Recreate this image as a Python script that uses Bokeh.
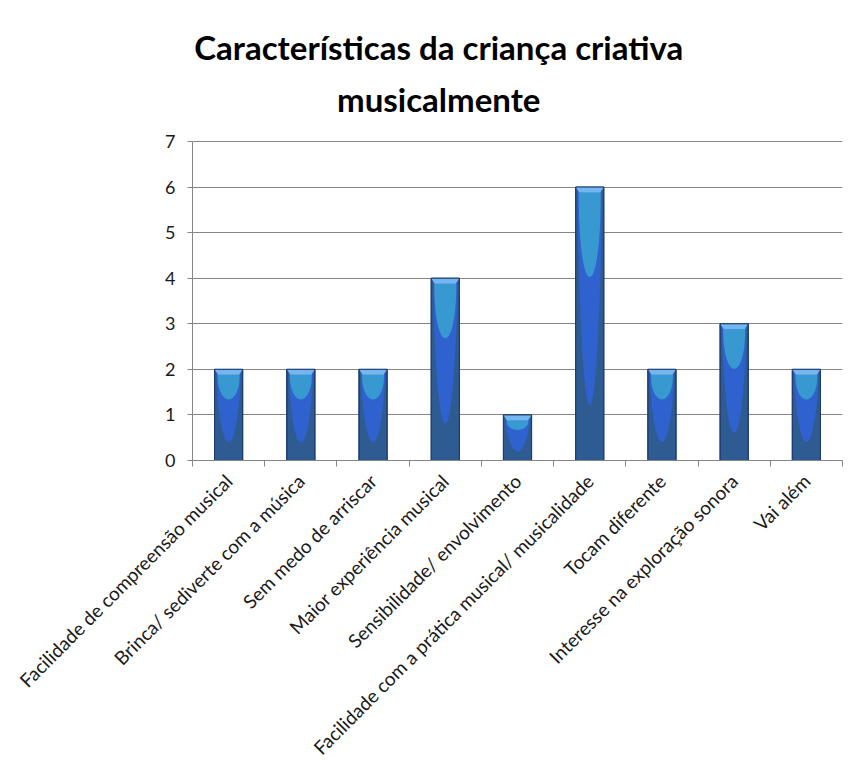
import math
import numpy as np
from bokeh.plotting import figure
from bokeh.models import FixedTicker, Range1d
from bokeh.core.properties import value
from bokeh.embed import file_html
from bokeh.resources import INLINE

# Chart data
categories = [
    "Facilidade de compreensão musical",
    "Brinca/ sediverte com a música",
    "Sem medo de arriscar",
    "Maior experiência musical",
    "Sensibilidade/ envolvimento",
    "Facilidade com a prática musical/ musicalidade",
    "Tocam diferente",
    "Interesse na exploração sonora",
    "Vai além",
]
values = [2, 2, 2, 4, 1, 6, 2, 3, 2]
y_ticks = [0, 1, 2, 3, 4, 5, 6, 7]
title_lines = ["Características da criança criativa", "musicalmente"]

n = len(categories)
centers = [i + 0.5 for i in range(n)]
bounds = [float(i) for i in range(n + 1)]

GRID = "#868686"
FONT = "Lato"

# the frame reaches up to hold the title; axis and grid stop at 7
p = figure(
    width=850, height=769,
    x_range=Range1d(0, n), y_range=Range1d(0, 9.545),
    output_backend="svg", toolbar_location=None,
    min_border_left=192, min_border_right=8,
    min_border_top=25, min_border_bottom=309,
    border_fill_color="white",
)
p.outline_line_color = None
p.background_fill_color = "white"

# x axis: labels at category centres, tick marks between categories
xax = p.xaxis[0]
xax.ticker = FixedTicker(ticks=centers, minor_ticks=bounds)
xax.major_label_overrides = {c: lab for c, lab in zip(centers, categories)}
xax.major_label_orientation = math.pi / 4
xax.major_tick_out = 0
xax.major_tick_in = 0
xax.minor_tick_out = 6
xax.minor_tick_in = 0
xax.minor_tick_line_color = GRID
xax.axis_line_color = GRID
xax.major_label_text_font = FONT
xax.major_label_text_font_size = "19px"
xax.major_label_text_color = "#1a1a1a"
xax.major_label_standoff = 11

yax = p.yaxis[0]
yax.ticker = FixedTicker(ticks=y_ticks)
yax.bounds = (0, 7)
yax.major_tick_out = 5
yax.major_tick_in = 0
yax.minor_tick_line_color = None
yax.major_tick_line_color = GRID
yax.axis_line_color = GRID
yax.major_label_text_font = FONT
yax.major_label_text_font_size = "18px"
yax.major_label_text_color = "#1a1a1a"
yax.major_label_standoff = 12

p.xgrid.visible = False
p.ygrid.ticker = FixedTicker(ticks=y_ticks)
p.ygrid.grid_line_color = GRID
p.ygrid.grid_line_width = 1

# cylinder-like shaded bars
w = 0.195      # half width of a bar (category units)
cap = 0.12     # height of the light top rim


def taper(cx, y_top, y_bot, hw, power, steps=48):
    t = np.linspace(1.0, 0.0, steps)
    ys = y_bot + t * (y_top - y_bot)
    half = hw * np.sqrt(1.0 - (1.0 - t) ** power)
    xs = np.concatenate([cx - half, (cx + half)[::-1]])
    yy = np.concatenate([ys, ys[::-1]])
    return list(xs), list(yy)


mid_xs, mid_ys, cy_xs, cy_ys, cap_xs, cap_ys = [], [], [], [], [], []
for c, v in zip(centers, values):
    xs, ys = taper(c, v - cap * 0.5, 0.2 * v, w * 0.86, 1.6)
    mid_xs.append(xs); mid_ys.append(ys)
    xs, ys = taper(c, v - cap, 0.67 * v, w * 0.78, 2.2)
    cy_xs.append(xs); cy_ys.append(ys)
    cap_xs.append([c - w, c + w, c + w - 0.05, c - w + 0.05])
    cap_ys.append([v, v, v - cap, v - cap])

p.vbar(x=centers, top=values, bottom=0, width=2 * w,
       fill_color="#2E5C92", line_color="#1E3A70", line_width=1)
p.patches(mid_xs, mid_ys, fill_color="#2F62CF", line_color=None)
p.patches(cy_xs, cy_ys, fill_color="#3799CF", line_color=None)
p.patches(cap_xs, cap_ys, fill_color="#74B6EF", line_color=None)
p.vbar(x=centers, top=values, bottom=0, width=2 * w,
       fill_color=None, line_color="#1E3A70", line_width=1)

# two-line title centred over the chart
p.text(x=[3.41, 3.41], y=[9.08, 7.94], text=title_lines,
       text_align="center", text_baseline="alphabetic",
       text_font=value(FONT), text_font_style="bold",
       text_font_size="33px", text_color="#000000")

open("out.html", "w").write(file_html(p, INLINE))
